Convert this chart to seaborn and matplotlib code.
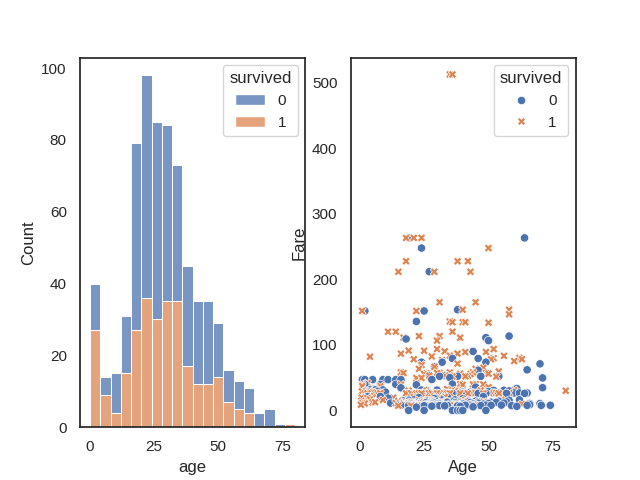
import numpy as np
import pandas as pd
import matplotlib
matplotlib.use('Agg')
import matplotlib.pyplot as plt
import seaborn as sns

# Left panel: stacked age histogram, 20 bins from youngest to oldest passenger
AGE_MIN, AGE_MAX, N_BINS = 0.42, 80.0, 20
COUNT_DIED = [13, 5, 11, 16, 52, 62, 55, 49, 38, 28,
              23, 23, 15, 9, 8, 7, 4, 5, 1, 0]
COUNT_SURV = [27, 9, 4, 15, 27, 36, 30, 35, 35, 17,
              12, 12, 14, 7, 5, 4, 0, 0, 0, 1]

# Right panel: age vs fare
DIED_AGE = (
    [16, 17, 18, 19, 20, 21, 22, 23, 24, 25, 26, 27, 28, 29, 30, 31, 32, 33, 34, 35,
     36, 37, 38, 39, 40, 41, 42, 43, 44, 45, 47, 49, 51, 55, 59, 61, 65, 70.5, 74]
    + [18, 21, 23, 25, 27, 28, 30, 31, 33, 34, 36, 38, 39, 42, 44, 46, 47, 51, 54, 57]
    + [19, 24, 27, 29, 30, 33, 36, 39, 41, 44, 46, 49, 52, 54, 57]
    + [20, 26, 28, 32, 35, 40, 45, 48, 21, 30, 37, 43]
    + [19, 25, 36, 38, 39, 40, 49]
    + [17, 19, 21, 26, 28, 32, 37, 40, 45, 48, 58, 62, 23, 34, 29, 42]
    + [20, 23, 26, 29, 31, 34, 37, 40, 43, 46, 50, 53, 56, 22, 28, 33, 39, 44]
    + [1, 2, 2, 2, 3, 4, 4, 5, 7, 8, 8, 9, 9, 10, 11, 11, 12, 14, 14, 15, 16, 16, 6]
    + [22, 24, 27, 28, 30, 31, 33, 36, 38, 40, 45, 46, 47, 50, 52, 54, 56, 58, 60, 61,
       62, 64, 65, 66, 70, 26, 35, 43]
    + [24, 19, 64, 22, 25, 2, 38, 27, 18, 49, 50, 58, 32, 24, 29, 36, 44, 46, 49, 65,
       70, 71, 71, 74, 66, 70.5]
)
DIED_FARE = (
    [7.75, 8.05, 7.9, 7.25, 7.85, 7.8, 8.05, 7.9, 7.75, 7.05, 7.9, 8.66, 7.9, 7.75, 8.05,
     7.23, 7.9, 8.05, 7.55, 7.75, 7.9, 8.05, 7.05, 7.9, 7.9, 7.85, 8.05, 8.05, 7.9, 7.75,
     7.25, 7.9, 7.75, 8.05, 7.25, 6.24, 7.75, 7.75, 7.78]
    + [13, 10.5, 13, 13, 10.5, 13, 13, 10.5, 13, 13, 12.9, 13, 13, 13, 10.5, 13, 13, 12.5, 14, 13]
    + [26, 26, 26.55, 26, 26, 26.55, 26, 26, 26, 26.55, 26, 26, 26.55, 26, 26]
    + [9.5, 9.2, 9.5, 8.66, 9.5, 9.8, 8.5, 9.6, 8.43, 9.5, 9.35, 8.66]
    + [0, 0, 0, 0, 0, 0, 0]
    + [14.5, 15.5, 16.1, 14.45, 15.05, 15.85, 16.1, 17.8, 14.1, 21.0, 15.5, 16.1, 19.5, 20.5, 18.0, 14.4]
    + [11.5, 10.5, 12.3, 11.1, 10.5, 12.5, 11.5, 10.5, 12.2, 11.1, 10.5, 12.3, 11.2, 5, 6.5, 6.9, 6.2, 5.5]
    + [46.9, 29.1, 39.7, 46.9, 21.1, 27.9, 31.3, 46.9, 29.1, 21.1, 39.7, 46.9, 31.3, 27.9,
       46.9, 18.8, 11.2, 39.7, 46.9, 8.0, 34.4, 46.9, 31.3]
    + [39, 31, 53.1, 47.1, 31, 52, 53.1, 40.1, 52, 27.7, 35.5, 61.2, 52, 28.7, 30.5, 51.9,
       30.7, 29.7, 26.6, 33.5, 26.55, 26, 26.55, 10.5, 10.5, 30, 50, 27.7]
    + [247.5, 263, 263, 135.6, 151.6, 151.6, 153.5, 211.5, 108.9, 110.9, 106.4, 113.3, 73.5,
       73.5, 66.6, 79.2, 90, 79.2, 73.5, 61.9, 71, 49.5, 34.65, 7.775, 8.7, 7.75]
)
SURV_AGE = (
    [0.42, 0.67, 0.75, 0.83, 0.92, 1, 1, 1, 2, 2, 3, 3, 3, 4, 4, 4, 5, 5, 5, 6,
     6, 7, 8, 8, 9, 12, 13, 14, 15, 15, 16, 16, 17, 17]
    + [18, 19, 21, 22, 24, 25, 26, 27, 28, 29, 30, 31, 32, 33, 35, 36, 38, 39, 45, 63, 20, 23]
    + [17, 20, 22, 24, 25, 26, 28, 30, 32, 34, 36, 40, 42, 45, 48, 50, 55, 19, 27]
    + [18, 20, 22, 23, 24, 25, 27, 28, 30, 31, 33, 34, 35, 36, 39, 40, 42, 44, 45, 48, 52, 54]
    + [22, 24, 23, 24, 25, 26, 27, 29, 30, 31, 33, 35, 35, 36, 38, 39, 40, 41, 42, 43,
       44, 45, 47, 48, 49, 50, 51, 52, 53, 54, 56, 60, 62, 63, 40, 48, 36, 33, 25, 30,
       35, 38, 41, 49, 52, 16, 19, 24, 21, 28, 32, 4]
    + [17, 19, 21, 23, 26, 29, 31, 33, 35, 37, 39, 41, 44, 47, 50, 53, 58, 22, 28, 34, 45, 60]
    + [35, 36, 50, 18, 38, 42, 15, 29, 43, 31, 45, 22, 40, 58, 58, 35, 36, 40, 41, 50,
       11, 14, 36, 17, 23, 31, 30, 39, 80, 18, 21, 24]
)
SURV_FARE = (
    [8.5, 14.5, 19.3, 29, 151.6, 11.1, 37, 39, 10.5, 26, 26, 41.6, 18.75, 16.7, 22, 29.1,
     12.5, 27.75, 19.3, 33, 12.5, 26.25, 36.75, 26.25, 15.9, 11.25, 19.5, 11.2, 7.2, 14.45,
     39.4, 57.98, 57, 10.5]
    + [7.8, 7.88, 7.75, 7.25, 7.14, 7.9, 7.93, 7.75, 7.9, 7.75, 8.05, 7.78, 7.85, 7.92, 7.75,
       7.9, 7.23, 7.93, 7.75, 9.59, 7.23, 7.55]
    + [12, 13, 10.5, 13, 13, 13, 13, 12.35, 13, 13, 13, 13, 13, 14.5, 13, 13, 16, 10.5, 12.5]
    + [26, 26, 26, 26, 26, 26.55, 26, 26, 26, 26.25, 26.55, 26, 26, 26.29, 26, 26.55, 26,
       26.55, 26.55, 26, 26.55, 26]
    + [49.5, 49.5, 63.4, 69.3, 55.4, 56.5, 53.1, 66.6, 56.9, 57, 53.1, 53.1, 57.75, 51.5,
       71.3, 55.9, 39, 51.9, 52.5, 55.4, 57.98, 63.4, 52.5, 65, 56.9, 55.9, 77.9, 79.65,
       51.5, 59.4, 83.2, 75.25, 80, 77.96, 30, 39.6, 30.7, 90, 91, 93.5, 83.5, 86.5, 89,
       89.1, 93.5, 86.5, 91.1, 69.3, 77.96, 82.2, 76.7, 81.9]
    + [16.1, 30, 20.5, 15.5, 30, 21, 18.75, 20.5, 26.3, 29.7, 40, 15.85, 39.5, 30.5, 35.5,
       26.55, 26.55, 41.6, 15, 32.5, 40.1, 31]
    + [512.3, 512.3, 247.5, 227.5, 227.5, 227.5, 211.3, 211.3, 211.3, 164.9, 164.9, 151.6,
       153.5, 153.5, 146.5, 135.6, 134.5, 134.5, 134.5, 133.6, 120, 120, 120, 110.9, 113.3,
       113.3, 106.4, 110.9, 30, 263, 263, 263]
)

sns.set_theme(style='white')
plt.rcParams['font.family'] = ['Liberation Sans', 'DejaVu Sans']

edges = np.linspace(AGE_MIN, AGE_MAX, N_BINS + 1)
mids = (edges[:-1] + edges[1:]) / 2
hist_df = pd.DataFrame({
    'age': np.concatenate([mids, mids]),
    'count': COUNT_DIED + COUNT_SURV,
    'survived': [0] * N_BINS + [1] * N_BINS,
})
pts = pd.DataFrame({
    'age': DIED_AGE + SURV_AGE,
    'fare': DIED_FARE + SURV_FARE,
    'survived': [0] * len(DIED_AGE) + [1] * len(SURV_AGE),
})
# cheap fares drawn last so the crowded bottom band looks like the original
pts = pts.sort_values('fare', ascending=False, kind='stable')

fig, (ax1, ax2) = plt.subplots(1, 2, figsize=(6.4, 4.8), dpi=100)

sns.histplot(data=hist_df, x='age', weights='count', hue='survived',
             multiple='stack', bins=N_BINS, binrange=(AGE_MIN, AGE_MAX), ax=ax1)
sns.move_legend(ax1, 'upper right')

sns.scatterplot(data=pts, x='age', y='fare', hue='survived', style='survived',
                hue_order=[0, 1], style_order=[0, 1], ax=ax2)
ax2.set(xlabel='Age', ylabel='Fare')
sns.move_legend(ax2, 'upper right')

fig.savefig('out.png')
